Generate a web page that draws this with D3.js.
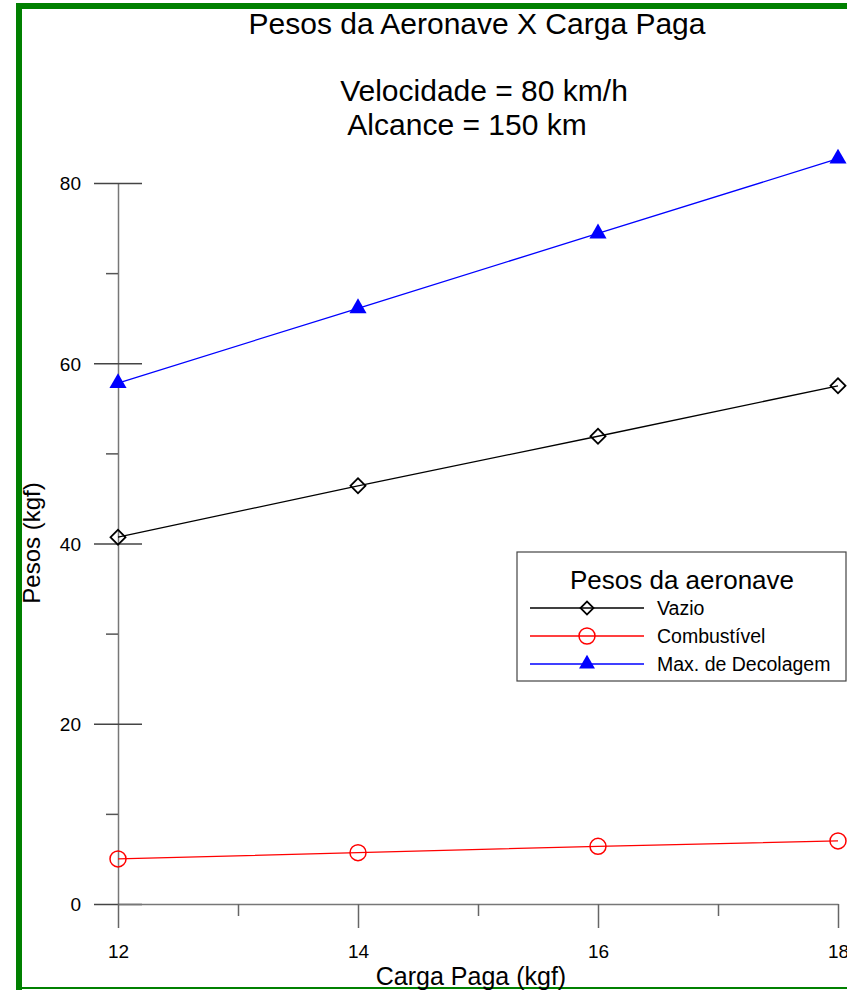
<!DOCTYPE html>
<html>
<head>
<meta charset="utf-8">
<script src="https://cdn.jsdelivr.net/npm/d3@7"></script>
<style>
  body { margin: 0; background: #fff; overflow: hidden; }
  svg { display: block; font-family: Arial, "Liberation Sans", sans-serif; }
</style>
</head>
<body>
<div id="chart"></div>
<script>
// data
const cargaPaga = [12, 14, 16, 18];
const pesoVazio = [40.7, 46.4, 51.9, 57.5];
const pesoCombustivel = [5.0, 5.7, 6.4, 7.0];
const pesoMaxDecolagem = [57.8, 66.1, 74.4, 82.7];

const xMajorTicks = [12, 14, 16, 18];
const xMinorTicks = [13, 15, 17];
const yMajorTicks = [0, 20, 40, 60, 80];
const yMinorTicks = [10, 30, 50, 70];

const seriesInfo = [
  { id: "vazio", label: "Vazio", values: pesoVazio, color: "#000000", marker: "diamond" },
  { id: "comb", label: "Combustível", values: pesoCombustivel, color: "#ff0000", marker: "circle" },
  { id: "max", label: "Max. de Decolagem", values: pesoMaxDecolagem, color: "#0000ff", marker: "triangle" }
];

const width = 847;
const height = 990;

const svg = d3.select("#chart")
  .append("svg")
    .attr("width", width)
    .attr("height", height);

// green frame
svg.append("rect").attr("x", 16).attr("y", 3).attr("width", width - 16).attr("height", 6).attr("fill", "#008000");
svg.append("rect").attr("x", 16).attr("y", 3).attr("width", 6).attr("height", height - 3).attr("fill", "#008000");
svg.append("rect").attr("x", 16).attr("y", 987).attr("width", width - 16).attr("height", 2).attr("fill", "#008000");

const xScale = d3.scaleLinear().domain([12, 18]).range([118, 838]);
const yScale = d3.scaleLinear().domain([0, 80]).range([904, 183]);

// titles
const titles = [
  { text: "Pesos da Aeronave X Carga Paga", x: 477, y: 34 },
  { text: "Velocidade = 80 km/h", x: 484, y: 101 },
  { text: "Alcance = 150 km", x: 467, y: 135 }
];
svg.selectAll(".title")
  .data(titles)
  .join("text")
    .attr("class", "title")
    .attr("x", d => d.x)
    .attr("y", d => d.y)
    .attr("text-anchor", "middle")
    .style("font-size", "30px")
    .text(d => d.text);

// y axis
const leftAxis = d3.axisLeft(yScale)
  .tickValues(yMajorTicks)
  .tickFormat(d3.format("d"))
  .tickSize(24)
  .tickSizeOuter(0)
  .tickPadding(13);

const yAxisG = svg.append("g")
  .attr("transform", `translate(${xScale(12)}, 0)`)
  .call(leftAxis);
yAxisG.select(".domain").attr("stroke", "#777").attr("stroke-width", 1.5);
yAxisG.selectAll(".tick line").attr("x1", 24).attr("stroke", "#444").attr("stroke-width", 1.5);
yAxisG.selectAll(".tick text")
  .attr("dy", "0.36em")
  .style("font-size", "19px")
  .attr("fill", "#000");

const yMinor = d3.axisLeft(yScale).tickValues(yMinorTicks).tickSize(12).tickFormat("").tickSizeOuter(0);
const yMinorG = svg.append("g")
  .attr("transform", `translate(${xScale(12)}, 0)`)
  .call(yMinor);
yMinorG.select(".domain").remove();
yMinorG.selectAll(".tick line").attr("stroke", "#555").attr("stroke-width", 1.5);

// x axis
const bottomAxis = d3.axisBottom(xScale)
  .tickValues(xMajorTicks)
  .tickFormat(d3.format("d"))
  .tickSize(24)
  .tickSizeOuter(0);

const xAxisG = svg.append("g")
  .attr("transform", `translate(0, ${yScale(0)})`)
  .call(bottomAxis);
xAxisG.select(".domain").attr("stroke", "#777").attr("stroke-width", 1.5);
xAxisG.selectAll(".tick line").attr("stroke", "#666").attr("stroke-width", 1.5);
xAxisG.selectAll(".tick text")
  .attr("y", 54)
  .attr("dy", 0)
  .style("font-size", "19px")
  .attr("fill", "#000");

const xMinor = d3.axisBottom(xScale).tickValues(xMinorTicks).tickSize(12).tickFormat("").tickSizeOuter(0);
const xMinorG = svg.append("g")
  .attr("transform", `translate(0, ${yScale(0)})`)
  .call(xMinor);
xMinorG.select(".domain").remove();
xMinorG.selectAll(".tick line").attr("stroke", "#666").attr("stroke-width", 1.5);

// axis titles
svg.append("text")
  .attr("x", 471)
  .attr("y", 985)
  .attr("text-anchor", "middle")
  .style("font-size", "25px")
  .text("Carga Paga (kgf)");

svg.append("text")
  .attr("transform", "translate(40, 543) rotate(-90)")
  .attr("text-anchor", "middle")
  .style("font-size", "24px")
  .text("Pesos (kgf)");

// markers
const drawMarker = (g, type, color, size) => {
  if (type === "circle") {
    g.append("circle").attr("r", size).attr("fill", "none").attr("stroke", color).attr("stroke-width", 1.5);
  } else if (type === "diamond") {
    g.append("path")
      .attr("d", d3.symbol(d3.symbolSquare, size * size * 2)())
      .attr("transform", "rotate(45)")
      .attr("fill", "none").attr("stroke", color).attr("stroke-width", 1.8);
  } else {
    g.append("path")
      .attr("d", d3.symbol(d3.symbolTriangle, size * size * 2.6)())
      .attr("fill", color);
  }
};

const lineGenerator = d3.line()
  .x(d => xScale(d[0]))
  .y(d => yScale(d[1]));

seriesInfo.forEach(series => {
  const pts = cargaPaga.map((c, i) => [c, series.values[i]]);
  svg.append("path")
    .datum(pts)
    .attr("d", lineGenerator)
    .attr("fill", "none")
    .attr("stroke", series.color)
    .attr("stroke-width", 1.3);

  svg.selectAll(`.pt-${series.id}`)
    .data(pts)
    .join("g")
      .attr("class", `pt-${series.id}`)
      .attr("transform", d => `translate(${xScale(d[0])}, ${yScale(d[1])})`)
      .each(function() {
        const size = series.marker === "circle" ? 8 : (series.marker === "diamond" ? 7.5 : 7);
        drawMarker(d3.select(this), series.marker, series.color, size);
      });
});

// legend
const legend = svg.append("g");
legend.append("rect")
  .attr("x", 517).attr("y", 552)
  .attr("width", 329).attr("height", 129)
  .attr("fill", "#fff")
  .attr("stroke", "#444")
  .attr("stroke-width", 1.2);

legend.append("text")
  .attr("x", 682).attr("y", 589)
  .attr("text-anchor", "middle")
  .style("font-size", "26px")
  .text("Pesos da aeronave");

const legendRows = [608, 636, 664];
seriesInfo.forEach((series, i) => {
  const row = legend.append("g").attr("transform", `translate(0, ${legendRows[i]})`);
  row.append("line")
    .attr("x1", 530).attr("x2", 644)
    .attr("stroke", series.color)
    .attr("stroke-width", 1.3);
  const m = row.append("g").attr("transform", "translate(587, 0)");
  const size = series.marker === "circle" ? 8 : 6.5;
  drawMarker(m, series.marker, series.color, size);
  row.append("text")
    .attr("x", 657).attr("y", 6.5)
    .style("font-size", "19.5px")
    .text(series.label);
});
</script>
</body>
</html>
